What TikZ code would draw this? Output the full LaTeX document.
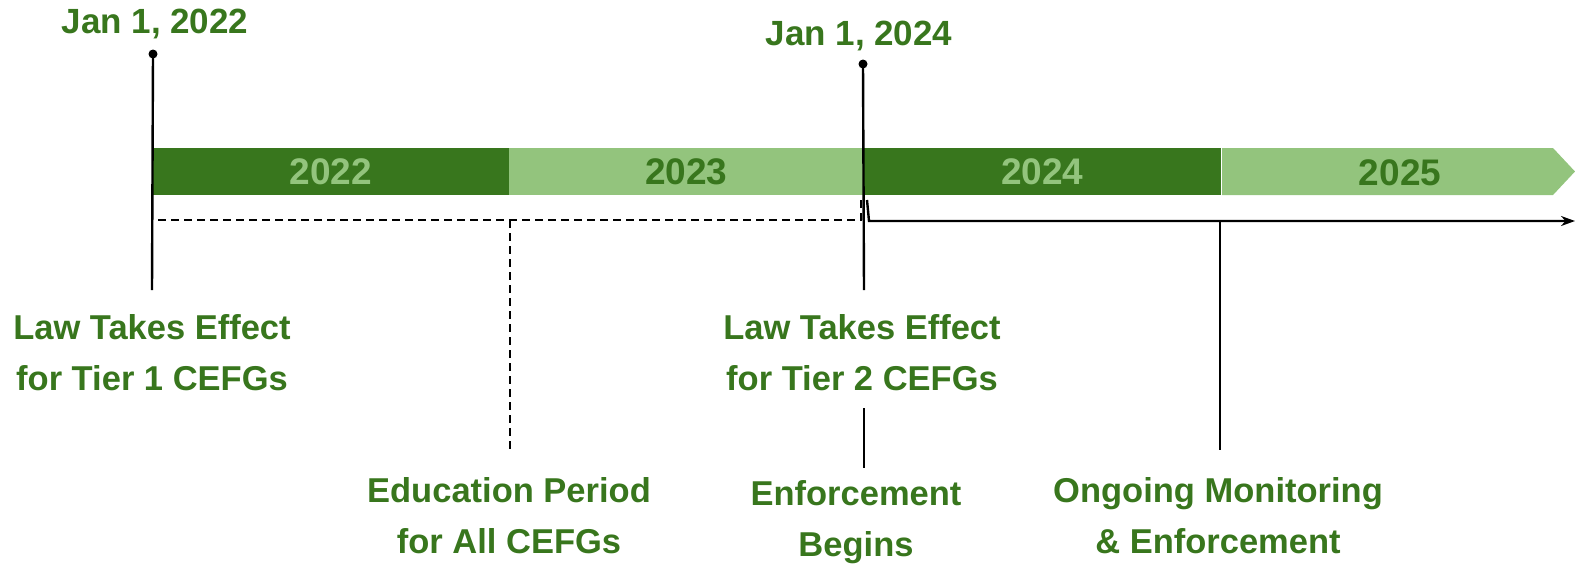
\documentclass[tikz,border=0pt]{standalone}
\usepackage{fontspec}
\setmainfont{Liberation Sans}
\usetikzlibrary{arrows.meta}
\definecolor{dkgreen}{HTML}{38761D}
\definecolor{ltgreen}{HTML}{93C47D}
\begin{document}
\begin{tikzpicture}[x=1pt,y=-1pt,
  datelbl/.style={anchor=base,inner sep=0pt,text=dkgreen,font=\fontsize{35}{42}\selectfont\bfseries},
  evlbl/.style={anchor=base,inner sep=0pt,align=center,text=dkgreen,font=\fontsize{34.5}{51}\selectfont\bfseries},
  yearseg/.style={anchor=west,inner sep=0pt,minimum height=47pt,font=\fontsize{37}{40}\selectfont\bfseries},
  conn/.style={line width=2.4pt,black},
  dconn/.style={line width=2.2pt,black,dash pattern=on 8pt off 5pt}]
\useasboundingbox (0,0) rectangle (1575,566);
% bar
\node[yearseg,fill=dkgreen,text=ltgreen,minimum width=357pt] (y22) at (152,171.5) {2022};
\node[yearseg,fill=ltgreen,text=dkgreen,minimum width=354pt] (y23) at (509,171.5) {2023};
\node[yearseg,fill=dkgreen,text=ltgreen,minimum width=358pt] (y24) at (863,171.5) {2024};
\fill[ltgreen] (1222,148) -- (1553,148) -- (1575,171.5) -- (1553,195) -- (1222,195) -- cycle;
\node[anchor=base,inner sep=0pt,text=dkgreen,font=\fontsize{37}{40}\selectfont\bfseries] (y25) at (1400,185) {2025};
% dates
\node[datelbl] (jan22) at (155,33) {Jan 1, 2022};
\node[datelbl] (jan24) at (859,45) {Jan 1, 2024};
\coordinate (dot22) at (153,54);
\coordinate (end22) at (152,290);
\coordinate (dot24) at (863,64);
\coordinate (end24) at (864,290);
\draw[conn] (dot22) -- (end22);
\fill (dot22) circle (4.5);
\draw[conn] (dot24) -- (end24);
\fill (dot24) circle (4.5);
% dashed education bracket
\coordinate (ds) at (152,200);
\coordinate (dsc) at (152,220);
\coordinate (dec) at (861,220);
\coordinate (de) at (861,200);
\coordinate (edtop) at (510,220);
\coordinate (edbot) at (510,450);
\draw[dconn] (ds) -- (dsc) -- (dec) -- (de);
\draw[dconn] (edtop) -- (edbot);
% solid enforcement arrow
\coordinate (as) at (867,200);
\coordinate (ac) at (869,221);
\coordinate (ae) at (1575,221);
\draw[conn,-{Stealth[length=14pt,width=10pt]}] (as) -- (ac) -- (ae);
\coordinate (ongtop) at (1220,222);
\coordinate (ongbot) at (1220,450);
\draw[conn] (ongtop) -- (ongbot);
% event labels (anchor = baseline of last line)
\node[evlbl] (law1) at (152,390) {Law Takes Effect\\for Tier 1 CEFGs};
\node[evlbl] (law2) at (862,390) {Law Takes Effect\\for Tier 2 CEFGs};
\node[evlbl] (edu) at (509,553) {Education Period\\for All CEFGs};
\node[evlbl] (enf) at (856,556) {Enforcement\\Begins};
\node[evlbl] (ong) at (1218,553) {Ongoing Monitoring\\\& Enforcement};
\coordinate (enftop) at (864,408);
\coordinate (enfbot) at (864,468);
\draw[conn] (enftop) -- (enfbot);
\end{tikzpicture}
\end{document}
